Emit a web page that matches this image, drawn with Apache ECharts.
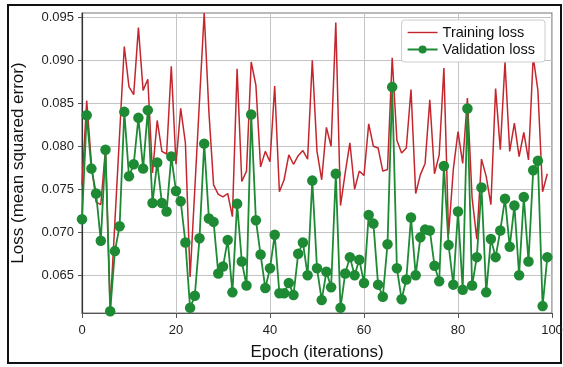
<!DOCTYPE html>
<html><head><meta charset="utf-8">
<script src="https://cdn.jsdelivr.net/npm/echarts@6/dist/echarts.min.js"></script>
<style>html,body{margin:0;padding:0;background:#fff}#c{width:563px;height:367px}</style>
</head><body><div id="c"></div>
<script>
const epochs = Array.from({length:100},(_,i)=>i);
const trainingLoss = [
0.0755,0.0853,0.0780,0.0735,0.0732,0.0797,0.0610,0.0712,0.0814,0.0916,
0.0869,0.0860,0.0938,0.0865,0.0878,0.0769,0.0830,0.0794,0.0791,0.0893,
0.0779,0.0844,0.0804,0.0648,0.0750,0.0853,0.0955,0.0840,0.0755,0.0744,
0.0741,0.0745,0.0718,0.0890,0.0759,0.0771,0.0898,0.0871,0.0776,0.0794,
0.0782,0.0870,0.0747,0.0761,0.0790,0.0779,0.0789,0.0795,0.0785,0.0900,
0.0794,0.0761,0.0822,0.0800,0.0944,0.0731,0.0769,0.0804,0.0750,0.0771,
0.0766,0.0826,0.0800,0.0798,0.0771,0.0773,0.0903,0.0807,0.0792,0.0798,
0.0866,0.0745,0.0767,0.0780,0.0854,0.0768,0.0790,0.0891,0.0697,0.0773,
0.0817,0.0780,0.0856,0.0740,0.0692,0.0785,0.0765,0.0732,0.0867,0.0796,
0.0898,0.0794,0.0827,0.0788,0.0816,0.0784,0.0904,0.0865,0.0747,0.0768];
const validationLoss = [
0.0715,0.0836,0.0774,0.0745,0.0690,0.0796,0.0608,0.0678,0.0707,0.0840,
0.0765,0.0779,0.0833,0.0774,0.0842,0.0734,0.0781,0.0734,0.0724,0.0788,
0.0748,0.0736,0.0688,0.0612,0.0626,0.0693,0.0803,0.0716,0.0712,0.0652,
0.0660,0.0691,0.0630,0.0733,0.0666,0.0638,0.0837,0.0714,0.0674,0.0635,
0.0658,0.0697,0.0629,0.0629,0.0641,0.0627,0.0675,0.0688,0.0650,0.0760,
0.0658,0.0621,0.0654,0.0636,0.0768,0.0612,0.0652,0.0671,0.0650,0.0668,
0.0641,0.0720,0.0710,0.0639,0.0625,0.0686,0.0869,0.0658,0.0622,0.0645,
0.0717,0.0650,0.0694,0.0703,0.0702,0.0661,0.0643,0.0777,0.0685,0.0639,
0.0724,0.0633,0.0844,0.0638,0.0671,0.0752,0.0630,0.0692,0.0671,0.0702,
0.0739,0.0683,0.0731,0.0650,0.0741,0.0666,0.0772,0.0783,0.0614,0.0671];
const yTicks = [0.065,0.070,0.075,0.080,0.085,0.090,0.095];

const chart = echarts.init(document.getElementById('c'));
const font = 'Liberation Sans, Arial, sans-serif';
chart.setOption({
  animation:false,
  backgroundColor:'#fff',
  grid:{left:82,right:11,top:13,bottom:54,containLabel:false,outerBoundsMode:'none',
    show:true,borderColor:'#777',borderWidth:1.2},
  legend:{
    orient:'vertical', right:18, top:20,
    backgroundColor:'#fff', borderColor:'#ccc', borderWidth:1, borderRadius:3,
    padding:[4,10,4,5], itemGap:0, itemWidth:30, itemHeight:10,
    textStyle:{fontFamily:font,fontSize:14.5,color:'#111',lineHeight:17},
    data:[{name:'Training loss',icon:'path://M0,4.3 L30,4.3 L30,5.7 L0,5.7 Z'},'Validation loss']
  },
  xAxis:{
    type:'value', min:0, max:100, interval:20,
    name:'Epoch (iterations)', nameLocation:'middle', nameGap:31,
    nameTextStyle:{fontFamily:font,fontSize:17,color:'#111'},
    axisLine:{show:true,lineStyle:{color:'#555',width:1.2}},
    axisTick:{show:true,length:5,lineStyle:{color:'#555'}},
    axisLabel:{fontFamily:font,fontSize:13,color:'#222',margin:11},
    splitLine:{show:true,lineStyle:{color:'#c4c4c4',width:1}}
  },
  yAxis:{
    type:'value', min:0.0606, max:0.0955,
    name:'Loss (mean squared error)', nameLocation:'middle', nameGap:55, nameRotate:90,
    nameTextStyle:{fontFamily:font,fontSize:17,color:'#111'},
    axisLine:{show:true,lineStyle:{color:'#333',width:1.2}},
    axisTick:{show:true,length:4,lineStyle:{color:'#555'},customValues:yTicks},
    axisLabel:{fontFamily:font,fontSize:13,color:'#222',margin:8,customValues:yTicks,
      formatter:v=>v.toFixed(3)},
    splitLine:{show:true,lineStyle:{color:'#c4c4c4',width:1}}
  },
  series:[
    {name:'Training loss',type:'line',data:epochs.map((e,i)=>[e,trainingLoss[i]]),
     showSymbol:false,symbol:'none',lineStyle:{color:'#c4262d',width:1.5},itemStyle:{color:'#c4262d'}},
    {name:'Validation loss',type:'line',data:epochs.map((e,i)=>[e,validationLoss[i]]),
     symbol:'circle',symbolSize:10.5,showSymbol:true,
     lineStyle:{color:'#1e8a34',width:1.8},itemStyle:{color:'#1e8a34'}}
  ],
  graphic:[{type:'rect',shape:{x:8,y:5,width:553,height:358},style:{fill:null,stroke:'#111',lineWidth:2},silent:true}]
});
</script></body></html>
